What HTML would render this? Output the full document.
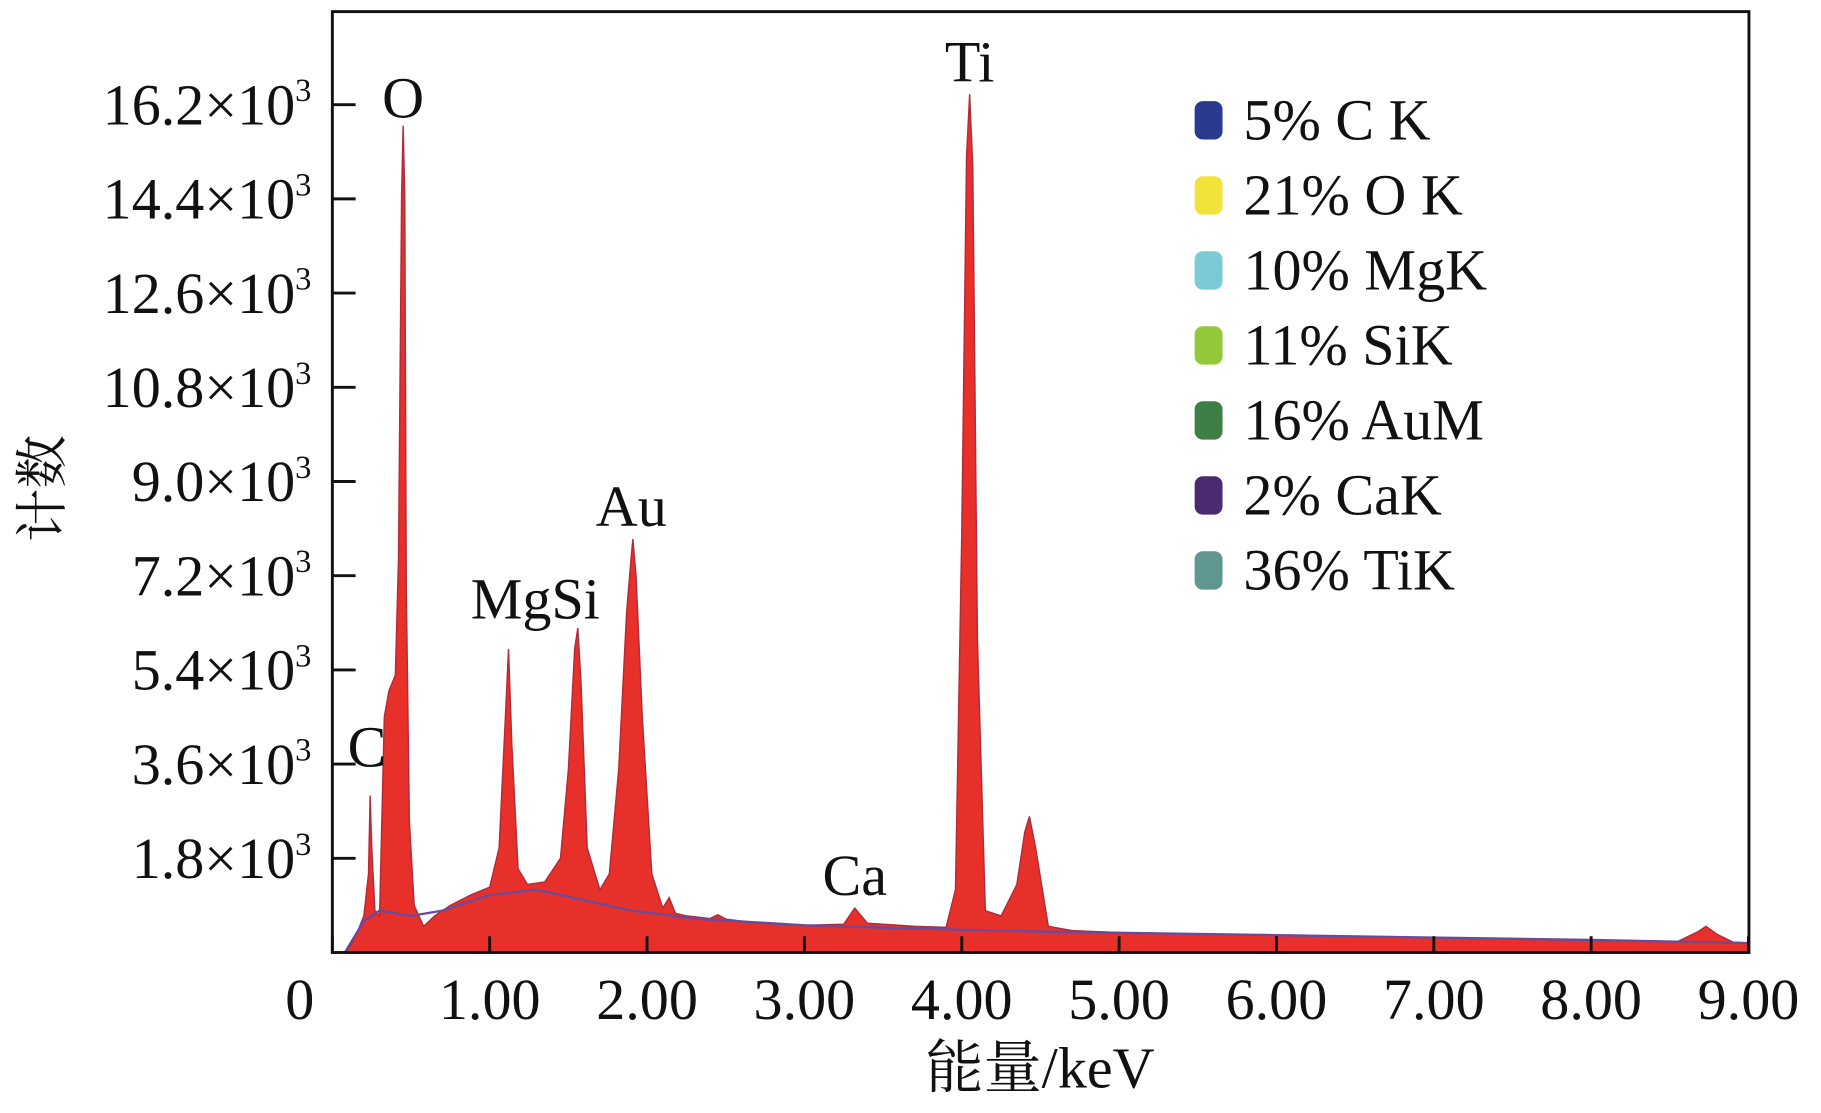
<!DOCTYPE html>
<html><head><meta charset="utf-8"><style>
html,body{margin:0;padding:0;background:#fff;}
svg{display:block;}
text{font-family:"Liberation Serif","Noto Serif CJK SC",serif;fill:#111;}
</style></head><body>
<svg id="chart" width="1821" height="1113" viewBox="0 0 1567 957" preserveAspectRatio="none" xmlns="http://www.w3.org/2000/svg">
<g id="plot"></g>
<rect x="286" y="10" width="1219" height="809" fill="none" stroke="#111" stroke-width="2.5"/>
<text transform="translate(52,420) rotate(-90)" font-size="46" text-anchor="middle">计数</text>
<text x="895" y="935" font-size="50" text-anchor="middle">能量/keV</text>
<g id="axes"></g>
<g id="labels"></g>
<g id="legend"></g>
</svg>
<script>
const energy=[0.08,0.12,0.16,0.20,0.23,0.24,0.25,0.27,0.30,0.33,0.36,0.40,0.42,0.44,0.45,0.46,0.47,0.49,0.52,0.58,0.65,0.75,0.88,1.00,1.06,1.10,1.12,1.14,1.18,1.24,1.35,1.45,1.50,1.54,1.56,1.58,1.62,1.70,1.76,1.82,1.87,1.90,1.91,1.93,1.97,2.03,2.10,2.14,2.18,2.25,2.40,2.45,2.50,2.70,3.00,3.25,3.32,3.40,3.70,3.90,3.96,4.00,4.03,4.05,4.07,4.10,4.15,4.25,4.35,4.40,4.43,4.47,4.55,4.70,5.00,6.00,7.00,8.00,8.55,8.68,8.73,8.80,8.90,9.00];
const counts=[0,150,400,700,1500,3000,2000,800,700,4500,5000,5300,7500,14500,15800,14500,7000,2500,900,500,700,900,1100,1250,2000,4500,5800,4000,1600,1300,1350,1800,3500,5800,6200,5200,2000,1200,1500,3500,6500,7600,7900,7200,4500,1500,850,1050,750,700,650,720,640,560,520,540,850,560,500,480,1200,8000,15200,16400,15000,6000,800,700,1300,2300,2600,2000,500,420,380,330,280,240,210,400,500,350,200,180];
const bgE=[0.08,0.2,0.3,0.5,0.7,1.0,1.3,1.6,1.9,2.3,3.0,3.8,4.5,6.0,8.0,9.0];
const bgC=[0,600,800,700,800,1100,1200,1000,800,650,520,450,400,330,240,180];
const yTicks=[1.8,3.6,5.4,7.2,9.0,10.8,12.6,14.4,16.2];
const yTickLabels=["1.8","3.6","5.4","7.2","9.0","10.8","12.6","14.4","16.2"];
const xTicks=[0,1,2,3,4,5,6,7,8,9];
const xTickLabels=["0","1.00","2.00","3.00","4.00","5.00","6.00","7.00","8.00","9.00"];
const peakNames=["C","O","MgSi","Au","Ca","Ti"];
const peakE=[0.22,0.45,1.29,1.90,3.32,4.05];
const peakLabelC=[3550,15950,6380,8150,1100,16640];
const legendItems=["5% C K","21% O K","10% MgK","11% SiK","16% AuM","2% CaK","36% TiK"];
const legendColors=["#2a3a8f","#f2e33a","#7ccad6","#93c83a","#3d7f45","#4a2a70","#5f9690"];
const NS="http://www.w3.org/2000/svg";
const X=e=>286+e*135.4, Y=c=>819-c/1000*45;
function mk(t,a,p){const el=document.createElementNS(NS,t);for(const k in a)el.setAttribute(k,a[k]);p.appendChild(el);return el;}
const plot=document.getElementById('plot'),axes=document.getElementById('axes'),labels=document.getElementById('labels'),legend=document.getElementById('legend');
let d="M"+X(energy[0])+","+Y(0);
energy.forEach((e,i)=>{d+=" L"+X(e).toFixed(1)+","+Y(counts[i]).toFixed(1);});
d+=" L"+X(9)+","+Y(0)+" Z";
const area=mk('path',{d:d,fill:'#e8302a',stroke:'#b02a3a','stroke-width':1.2},plot);


let bd="";bgE.forEach((e,i)=>{bd+=(i?" L":"M")+X(e).toFixed(1)+","+Y(bgC[i]).toFixed(1);});
const bl=mk('path',{d:bd,fill:'none',stroke:'#6a4a9a','stroke-width':2},plot);


yTicks.forEach((v,i)=>{
 const y=Y(v*1000);
 const t=mk('line',{x1:286,x2:306,y1:y,y2:y,stroke:'#111','stroke-width':2.5},axes);
 
 
 const tx=mk('text',{x:268,y:y+17,'font-size':50,'text-anchor':'end'},axes);
 
 
 tx.innerHTML=yTickLabels[i]+"×10<tspan font-size='28' dy='-20'>3</tspan>";
});
xTicks.forEach((v,i)=>{
 const x=X(v);
 const t=mk('line',{x1:x,x2:x,y1:819,y2:805,stroke:'#111','stroke-width':2.5},axes);
 
 
 const tx=mk('text',{x:i==0?258:x,y:876,'font-size':50,'text-anchor':'middle'},axes);
 
 
 tx.textContent=xTickLabels[i];
});
peakNames.forEach((n,i)=>{
 const tx=mk('text',{x:X(peakE[i]),y:Y(peakLabelC[i]),'font-size':50,'text-anchor':'middle'},labels);
 
 
 tx.textContent=n;
});
legendItems.forEach((s,i)=>{
 const y=103+i*64.5;
 const r=mk('rect',{x:1028,y:y-16,width:24,height:33,rx:7,fill:legendColors[i]},legend);
 
 
 const tx=mk('text',{x:1070,y:y+17,'font-size':50},legend);
 
 
 tx.textContent=s;
});
</script>
</body></html>
